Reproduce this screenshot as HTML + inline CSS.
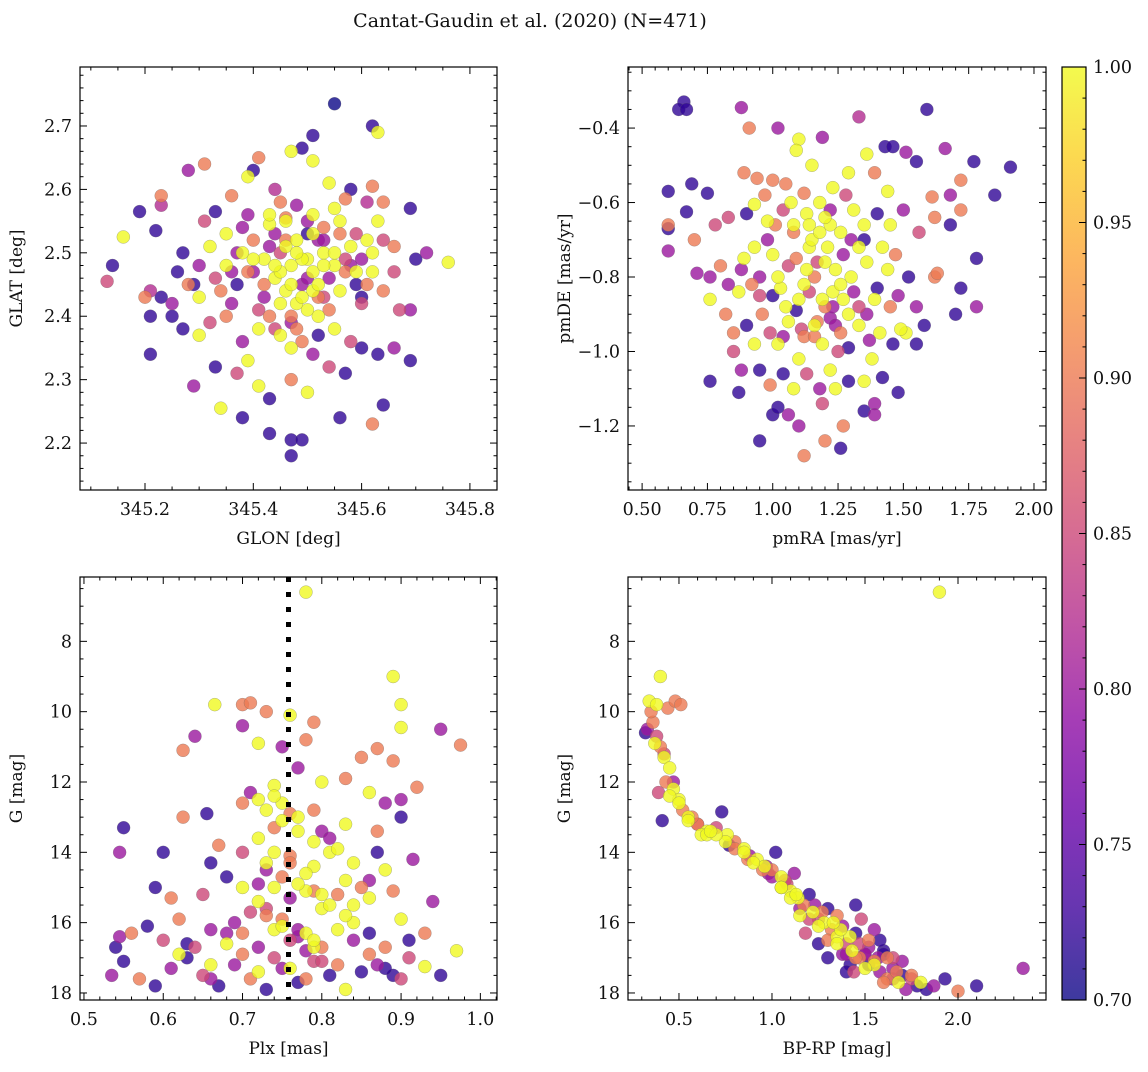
<!DOCTYPE html>
<html><head><meta charset="utf-8"><style>
html,body{margin:0;padding:0;background:#fff}
text{font-family:"DejaVu Serif","Liberation Serif",serif;fill:#111}
</style></head><body>
<svg id="fig" width="1148" height="1067" viewBox="0 0 1148 1067" xmlns="http://www.w3.org/2000/svg">
<defs><linearGradient id="cbg" x1="0" y1="1" x2="0" y2="0"></linearGradient></defs>
<text x="530" y="27" font-size="19" text-anchor="middle">Cantat-Gaudin et al. (2020) (N=471)</text>
</svg>
<script>
// Panel 1: GLON vs GLAT
const glonVals=[345.55,345.62,345.63,345.51,345.47,345.49,345.41,345.51,345.31,345.28,345.40,345.39,345.58,345.62,345.23,345.19,345.16,345.23,345.33,345.36,345.44,345.54,345.57,345.61,345.64,345.69,345.22,345.27,345.31,345.35,345.39,345.43,345.46,345.48,345.51,345.53,345.56,345.59,345.61,345.63,345.66,345.70,345.72,345.76,345.14,345.13,345.20,345.21,345.23,345.25,345.21,345.25,345.29,345.30,345.33,345.35,345.37,345.38,345.40,345.42,345.44,345.45,345.46,345.47,345.48,345.49,345.50,345.51,345.52,345.53,345.54,345.55,345.56,345.57,345.58,345.59,345.60,345.62,345.64,345.67,345.69,345.27,345.30,345.32,345.35,345.38,345.41,345.43,345.45,345.47,345.50,345.52,345.55,345.58,345.60,345.63,345.66,345.69,345.21,345.29,345.33,345.37,345.39,345.41,345.43,345.47,345.50,345.54,345.57,345.64,345.34,345.38,345.43,345.47,345.49,345.47,345.56,345.62,345.46,345.48,345.52,345.44,345.42,345.54,345.50,345.40,345.36,345.60,
345.45,345.47,345.49,345.51,345.53,345.46,345.48,345.50,345.52,345.44,345.42,345.40,345.43,345.55,345.57,345.49,345.47,345.51,345.53,345.45,345.41,345.39,345.37,345.59,345.61,345.46,345.50,345.48,345.52,345.44,345.36,345.34,345.32,345.56,345.58,345.62,345.64,345.30,345.28,345.26,345.47,345.49,345.51,345.53,345.43,345.45,345.55,345.38,345.60,345.66];
const glatVals=[2.735,2.70,2.69,2.685,2.66,2.665,2.65,2.645,2.64,2.63,2.63,2.62,2.60,2.605,2.59,2.565,2.525,2.575,2.565,2.59,2.60,2.61,2.585,2.58,2.58,2.57,2.535,2.50,2.55,2.53,2.56,2.545,2.555,2.575,2.56,2.54,2.55,2.53,2.52,2.55,2.51,2.49,2.50,2.485,2.48,2.455,2.43,2.44,2.43,2.42,2.40,2.40,2.45,2.43,2.46,2.48,2.45,2.50,2.47,2.49,2.46,2.50,2.44,2.48,2.52,2.45,2.49,2.47,2.43,2.50,2.46,2.48,2.44,2.47,2.51,2.45,2.42,2.47,2.44,2.41,2.41,2.38,2.37,2.39,2.40,2.36,2.38,2.40,2.37,2.39,2.41,2.37,2.38,2.36,2.35,2.34,2.35,2.33,2.34,2.29,2.32,2.31,2.33,2.29,2.27,2.30,2.28,2.32,2.31,2.26,2.255,2.24,2.215,2.205,2.205,2.18,2.24,2.23,2.51,2.42,2.52,2.53,2.43,2.41,2.53,2.52,2.42,2.49,
2.47,2.45,2.49,2.44,2.48,2.52,2.50,2.46,2.45,2.48,2.45,2.49,2.51,2.50,2.49,2.43,2.40,2.53,2.52,2.42,2.41,2.47,2.50,2.47,2.45,2.55,2.55,2.38,2.40,2.38,2.47,2.44,2.51,2.53,2.48,2.50,2.52,2.48,2.45,2.47,2.35,2.36,2.34,2.43,2.56,2.58,2.57,2.54,2.43,2.47];
const prob1=[.70,.72,1,.72,1,.72,.9,1,.9,.8,.72,1,.72,.9,.9,.72,1,.82,.72,.9,.82,1,.9,.82,.9,.72,.72,.72,.85,1,.8,1,.9,.8,1,.9,1,.85,1,1,.9,.72,.8,1,.72,.85,.9,.82,.72,.8,.72,.72,.72,1,.85,1,.72,1,.8,1,1,.85,1,1,1,.8,1,1,.9,1,.8,1,1,.9,1,.72,.85,1,.9,.85,.8,.72,1,.85,.9,.8,1,.9,1,.8,1,.72,1,.85,.72,.72,.8,.72,.72,.8,.72,.85,1,1,.72,.9,1,.85,.72,.72,1,.72,.72,.72,.72,.72,.72,.9,1,1,.8,.8,.8,.9,.72,.9,.8,.8,
1,1,1,1,1,.9,1,.8,1,1,.9,1,.8,1,.85,1,.9,1,.8,1,.85,.9,.8,1,.9,1,.8,.9,1,.85,.8,.9,1,.9,.8,1,.85,.8,.9,.72,1,.9,.8,.85,1,.9,1,.8,.72,.85];
// Panel 2: pmRA vs pmDE
const pmraVals=[0.66,0.64,0.67,0.88,1.59,1.33,0.91,1.02,1.10,1.19,1.43,1.51,1.46,1.55,1.66,1.77,1.91,1.36,1.15,1.09,1.29,1.39,1.00,0.94,0.89,0.69,0.60,0.75,1.05,1.23,1.12,1.44,1.61,1.72,1.85,1.68,0.60,0.67,0.60,0.70,0.60,0.78,0.83,0.90,0.93,0.98,1.04,1.08,1.13,1.18,1.22,1.26,1.31,1.35,1.40,1.45,1.50,1.56,1.62,1.68,1.72,1.62,1.63,1.78,1.72,1.70,1.78,0.71,0.76,0.80,0.76,0.82,0.87,0.89,0.93,0.95,1.00,1.03,1.06,1.10,1.14,1.16,1.20,1.23,1.27,1.30,1.33,1.36,1.40,1.44,1.48,1.52,1.55,1.58,0.90,0.96,0.99,1.02,1.06,1.09,1.12,1.16,1.19,1.22,1.26,1.29,1.33,1.37,1.41,1.46,1.51,1.55,1.49,0.76,0.85,0.88,0.87,0.95,0.99,1.04,1.08,1.13,1.18,1.22,1.24,1.29,1.35,1.42,1.48,1.39,1.00,1.02,0.95,1.06,1.10,1.12,1.19,1.20,1.26,1.27,1.35,1.39,
1.15,1.18,1.21,1.24,1.12,1.09,1.27,1.30,1.05,1.02,1.17,1.20,1.23,1.14,1.11,1.26,1.08,1.29,0.98,1.33,0.95,0.92,1.36,1.39,1.01,1.19,1.22,1.16,1.13,1.25,0.88,0.85,1.42,1.45,1.04,1.07,1.28,1.31,0.97,1.35,1.10,1.20,1.24,1.14,0.93,1.47,1.38,0.83,1.00,1.17];
const pmdeVals=[-0.33,-0.35,-0.35,-0.345,-0.35,-0.37,-0.40,-0.40,-0.43,-0.425,-0.45,-0.465,-0.45,-0.49,-0.455,-0.49,-0.505,-0.47,-0.50,-0.46,-0.52,-0.52,-0.54,-0.535,-0.52,-0.55,-0.57,-0.575,-0.55,-0.56,-0.575,-0.57,-0.585,-0.54,-0.58,-0.58,-0.66,-0.625,-0.67,-0.70,-0.73,-0.66,-0.64,-0.63,-0.605,-0.65,-0.62,-0.66,-0.63,-0.60,-0.66,-0.68,-0.62,-0.66,-0.63,-0.66,-0.62,-0.68,-0.64,-0.66,-0.62,-0.80,-0.79,-0.75,-0.83,-0.90,-0.88,-0.79,-0.80,-0.77,-0.86,-0.90,-0.84,-0.75,-0.72,-0.80,-0.74,-0.83,-0.77,-0.86,-0.72,-0.80,-0.76,-0.84,-0.74,-0.80,-0.88,-0.76,-0.83,-0.78,-0.85,-0.80,-0.88,-0.93,-0.93,-0.90,-0.95,-0.98,-0.92,-0.89,-0.96,-0.93,-0.98,-0.91,-0.95,-0.99,-0.93,-0.97,-0.95,-0.98,-0.95,-0.98,-0.94,-1.08,-1.00,-1.05,-1.11,-1.05,-1.09,-1.06,-1.10,-1.06,-1.10,-1.05,-1.10,-1.08,-1.08,-1.07,-1.11,-1.14,-1.17,-1.15,-1.24,-1.17,-1.20,-1.28,-1.14,-1.24,-1.26,-1.20,-1.16,-1.17,
-0.70,-0.68,-0.72,-0.78,-0.82,-0.75,-0.86,-0.70,-0.88,-0.80,-0.92,-0.64,-0.88,-0.66,-0.94,-0.82,-0.68,-0.90,-0.70,-0.72,-0.85,-0.82,-0.90,-0.86,-0.66,-0.86,-0.62,-0.96,-0.78,-1.00,-0.78,-0.95,-0.72,-0.88,-0.96,-0.60,-0.58,-0.84,-0.58,-0.70,-1.02,-0.88,-0.93,-0.84,-0.98,-0.74,-1.02,-0.82,-0.85,-0.76];
const prob2=[.72,.72,.72,.8,.72,.82,.9,.8,1,.8,.72,.8,.72,.72,.8,.72,.72,1,1,1,1,.9,.9,.9,.9,.72,.72,.72,.9,1,.9,1,.9,.9,.72,.8,.9,.72,.72,.9,.8,.85,.85,.72,1,1,.85,1,1,1,1,1,1,1,.72,1,.8,.85,.9,.72,.9,.9,.9,.72,.72,.72,.8,.8,.8,.9,1,.9,1,1,1,.8,1,1,.85,1,1,.9,1,1,.8,1,.85,1,.72,1,.8,.72,.8,.72,.72,.9,.85,1,1,.72,.9,1,1,.8,.9,.72,1,.8,1,.72,1,.72,1,.72,.85,.8,.72,.72,.9,.72,1,.85,.8,1,1,.72,1,.72,.72,.8,.72,.72,.72,.8,.8,.9,.85,.9,.72,.9,.72,.8,
1,1,1,1,1,.9,1,.8,1,1,.9,1,.8,1,.85,1,.9,1,.8,1,.85,.9,.8,1,.9,1,.8,.9,1,.85,.8,.9,1,.9,.8,1,.85,.8,.9,.72,1,.9,.8,.85,1,.9,1,.8,.72,.85];
// Panel 3: Plx vs G
const plxVals=[0.78,0.665,0.70,0.71,0.73,0.76,0.70,0.79,0.89,0.90,0.90,0.95,0.975,0.625,0.64,0.72,0.75,0.78,0.85,0.87,0.89,0.55,0.545,0.60,0.625,0.655,0.66,0.70,0.72,0.74,0.77,0.80,0.83,0.86,0.88,0.90,0.92,0.90,0.87,0.83,0.80,0.77,0.74,0.72,0.70,0.73,0.76,0.79,0.81,0.84,0.86,0.88,0.915,0.61,0.59,0.65,0.68,0.70,0.72,0.74,0.76,0.78,0.80,0.82,0.84,0.86,0.89,0.94,0.90,0.97,0.545,0.54,0.56,0.58,0.60,0.62,0.63,0.66,0.68,0.70,0.72,0.74,0.76,0.78,0.80,0.82,0.84,0.86,0.88,0.91,0.93,0.535,0.55,0.57,0.59,0.61,0.63,0.65,0.67,0.69,0.71,0.73,0.75,0.77,0.79,0.81,0.83,0.85,0.87,0.89,0.91,0.93,0.95,0.67,0.79,0.75,
0.73,0.75,0.77,0.79,0.74,0.76,0.78,0.72,0.80,0.81,0.73,0.75,0.77,0.79,0.74,0.76,0.78,0.82,0.71,0.83,0.73,0.75,0.77,0.79,0.70,0.84,0.68,0.86,0.66,0.64,0.73,0.75,0.77,0.79,0.81,0.83,0.71,0.69,0.85,0.87,0.74,0.76,0.78,0.80,0.72,0.82,0.62,0.66,0.88,0.90];
const gmag3=[6.6,9.8,9.8,9.75,10.0,10.1,10.4,10.3,9.0,9.8,10.45,10.5,10.95,11.1,10.7,10.9,11.0,10.8,11.3,11.05,11.4,13.3,14.0,14.0,13.0,12.9,14.3,12.6,12.5,12.1,11.6,12.0,11.9,12.3,12.6,12.5,12.15,13.0,13.4,13.2,13.4,13.0,13.3,13.6,14.0,14.3,14.1,14.4,14.0,14.3,14.8,14.5,14.2,15.3,15.0,15.2,14.7,15.0,15.4,15.0,15.3,15.1,15.6,15.2,15.5,15.3,15.1,15.4,15.9,16.8,16.4,16.7,16.3,16.1,16.5,15.9,16.6,16.2,16.6,16.3,16.7,16.2,16.5,16.3,16.7,16.2,16.5,16.3,16.7,16.5,16.3,17.5,17.1,17.6,17.8,17.3,17.0,17.5,17.8,17.2,17.6,17.9,17.3,17.7,17.1,17.5,17.9,17.4,17.2,17.5,17.0,17.25,17.5,13.8,12.8,12.6,
12.8,13.1,13.4,13.7,14.0,14.3,14.6,14.9,15.2,15.5,15.8,16.1,16.4,16.7,17.0,17.3,17.6,13.9,12.3,14.8,15.6,15.9,16.2,16.5,16.9,16.0,16.3,16.9,17.2,16.7,14.5,14.7,14.9,15.1,13.6,15.8,15.7,16.0,15.0,14.0,12.4,12.9,16.8,17.1,17.4,17.2,16.9,17.6,17.3,17.6];
const prob3=[1,1,.9,.9,.9,1,.8,.9,1,1,1,.8,.9,.9,.8,1,.8,.9,.9,.9,.9,.72,.8,.72,.9,.72,.72,.9,1,1,.8,1,.9,1,.8,.8,.9,.72,.9,1,.8,1,.9,1,.85,1,.9,1,1,1,.8,1,.8,.9,.72,.85,.72,1,1,1,.8,1,1,.9,1,1,.9,.8,1,1,.8,.72,.9,.72,.85,.9,.72,.8,1,.9,.8,1,.85,1,.9,1,.8,.72,.9,.72,.9,.8,.72,.9,.72,.8,.72,.85,.72,.8,.9,.72,.8,.72,.85,.72,1,.72,.8,.72,.85,1,.72,.9,.9,1,
1,1,1,1,1,.9,1,.8,1,1,.9,1,.8,1,.85,1,.9,1,.8,1,.85,.9,.8,1,.9,1,.8,.9,1,.85,.8,.9,1,.9,.8,1,.85,.8,.9,.72,1,.9,.8,.85,1,.9,1,.8,.72,.85];
// Panel 4: BP-RP vs G
const bprpVals=[1.9,0.40,0.34,0.38,0.44,0.48,0.51,0.33,0.36,0.38,0.40,0.42,0.45,0.43,0.39,0.47,0.50,0.52,0.41,0.55,0.60,0.65,0.70,0.73,0.76,0.80,0.85,0.88,0.92,0.96,1.00,1.02,1.05,1.08,1.10,1.12,1.14,1.17,1.20,1.22,1.25,1.28,1.30,1.32,1.35,1.38,1.40,1.43,1.45,1.47,1.50,1.52,1.55,1.58,1.60,1.62,1.65,1.68,1.70,1.72,1.75,1.78,1.83,1.87,1.93,2.10,2.00,2.35,1.48,1.55,1.35,1.58,1.42,1.30,1.38,1.25,1.65,1.70,1.52,1.45,1.15,1.05,0.98,0.62,0.35,0.32,1.18,1.40,
0.45,0.55,0.65,0.75,0.85,0.95,1.05,1.15,1.25,1.35,1.45,1.55,1.65,0.50,0.60,0.70,0.80,0.90,1.00,1.10,1.20,1.30,1.40,1.50,1.60,1.42,1.52,1.62,1.37,1.47,1.57,1.67,1.33,1.27,1.23,1.13,1.07,0.97,0.87,0.77,0.67,0.57,0.47,0.42,0.37,1.75,1.80,1.50,1.60,1.44];
const gmag4=[6.6,9.0,9.7,9.8,9.9,9.7,9.8,10.5,10.3,10.7,11.0,11.3,11.6,12.0,12.3,12.2,12.5,12.8,13.1,13.0,13.2,13.4,13.3,12.85,13.5,13.7,13.9,14.1,14.2,14.4,14.5,14.0,14.7,14.9,15.1,14.6,15.3,15.5,15.2,15.7,15.9,16.0,15.6,16.2,16.4,16.1,16.6,16.8,16.3,17.0,16.9,17.2,17.1,17.4,16.8,17.6,17.3,17.7,17.5,17.9,17.6,17.8,17.9,17.8,17.6,17.8,17.95,17.3,15.9,16.2,15.8,16.5,17.2,17.0,16.9,16.6,17.0,17.1,16.5,15.5,15.8,15.0,14.6,13.5,10.0,10.6,16.3,17.4,
12.4,13.1,13.5,13.7,14.0,14.5,15.0,15.6,16.1,16.6,17.0,17.2,17.6,12.6,13.2,13.5,13.9,14.3,14.7,15.3,15.9,16.5,16.9,17.3,17.7,16.4,16.7,17.0,16.2,16.6,17.0,17.4,16.0,15.7,15.5,15.2,14.8,14.4,14.2,13.8,13.4,13.0,12.0,11.2,10.9,17.5,17.7,16.9,16.9,17.4];
const prob4=[1,1,1,1,.9,.9,.9,.8,.9,.85,.9,1,1,.9,.85,1,1,.9,.72,1,.9,1,.85,.72,1,.9,1,.8,1,1,.9,.72,1,.85,1,.8,1,.9,.72,1,.85,1,.72,.9,1,.8,.85,1,.72,.9,.8,.72,.9,.8,.72,.9,.8,1,.72,.8,.85,.72,.72,.8,.72,.72,.9,.8,.85,.8,.9,.72,.72,.72,.8,.72,.85,.8,.9,.72,1,1,.8,1,.9,.72,.85,.72,
1,1,1,1,1,.9,1,.8,1,1,.9,1,.8,1,.85,1,.9,1,.8,1,.85,.9,.8,1,.9,1,.8,.9,1,.85,.8,.9,1,.9,.8,1,.85,.8,.9,.72,1,.9,.8,.85,1,.9,1,.8,.72,.85];
// Tick labels
const ticks1x=[345.2,345.4,345.6,345.8], ticks1y=[2.2,2.3,2.4,2.5,2.6,2.7];
const ticks2x=[0.5,0.75,1.0,1.25,1.5,1.75,2.0], ticks2y=[-1.2,-1.0,-0.8,-0.6,-0.4];
const ticks3x=[0.5,0.6,0.7,0.8,0.9,1.0], ticksG=[8,10,12,14,16,18];
const ticks4x=[0.5,1.0,1.5,2.0], ticksCb=[0.70,0.75,0.80,0.85,0.90,0.95,1.00];
const plxCut=0.758;

const NS='http://www.w3.org/2000/svg';
const svg=document.getElementById('fig');
function mk(tag,attrs,parent){const e=document.createElementNS(NS,tag);for(const k in attrs)e.setAttribute(k,attrs[k]);(parent||svg).appendChild(e);return e;}
const stops=['#0d0887','#41049d','#6a00a8','#8f0da4','#b12a90','#cc4778','#e16462','#f2844b','#fca636','#fcce25','#f0f921'];
function hx(c){return [1,3,5].map(i=>parseInt(c.substr(i,2),16));}
function plasma(t){t=Math.max(0,Math.min(1,t))*10;const i=Math.min(9,Math.floor(t)),f=t-i;const a=hx(stops[i]),b=hx(stops[i+1]);return 'rgb('+a.map((v,k)=>Math.round(v+(b[k]-v)*f)).join(',')+')';}
function cmap(p){return plasma((p-0.7)/0.3);}
function fmt(v,d){return v.toFixed(d).replace('-','\u2212');}

function panel(o){
  const g=mk('g',{});
  
  
  const X=v=>o.x0+(v-o.xmin)/(o.xmax-o.xmin)*(o.x1-o.x0);
  const Y=o.inv?v=>o.y0+(v-o.ymin)/(o.ymax-o.ymin)*(o.y1-o.y0):v=>o.y1-(v-o.ymin)/(o.ymax-o.ymin)*(o.y1-o.y0);
  const cp='cp'+o.name;
  const c=mk('clipPath',{id:cp},g);mk('rect',{x:o.x0,y:o.y0,width:o.x1-o.x0,height:o.y1-o.y0},c);
  const pts=mk('g',{'clip-path':'url(#'+cp+')'},g);
  const idx=o.xs.map((_,i)=>i).sort((a,b)=>o.ps[a]-o.ps[b]);
  idx.forEach(i=>{
    const e=mk('circle',{cx:X(o.xs[i]),cy:Y(o.ys[i]),r:6.5,fill:cmap(o.ps[i]),'fill-opacity':0.8,stroke:'#666','stroke-opacity':0.5,'stroke-width':0.5},pts);
    
    
  });
  if(o.vline!==undefined){
    const l=mk('line',{x1:X(o.vline),x2:X(o.vline),y1:o.y0,y2:o.y1,stroke:'#000','stroke-width':5,'stroke-dasharray':'5,10'},g);
    
    
  }
  mk('rect',{x:o.x0,y:o.y0,width:o.x1-o.x0,height:o.y1-o.y0,fill:'none',stroke:'#000','stroke-width':1.2},g);
  const xt=o.xt,yt=o.yt;
  const xstep=xt[1]-xt[0],ystep=yt[1]-yt[0];
  for(let v=xt[0]-xstep;v<=o.xmax+1e-9;v+=xstep/o.xm){if(v<o.xmin)continue;const px=X(v);const maj=Math.abs(((v-xt[0])/xstep)-Math.round((v-xt[0])/xstep))<1e-6;const L=maj?7:3.5;
    mk('line',{x1:px,x2:px,y1:o.y1,y2:o.y1-L,stroke:'#000','stroke-width':1},g);mk('line',{x1:px,x2:px,y1:o.y0,y2:o.y0+L,stroke:'#000','stroke-width':1},g);}
  for(let v=yt[0]-ystep;v<=o.ymax+1e-9;v+=ystep/o.ym){if(v<o.ymin)continue;const py=Y(v);const maj=Math.abs(((v-yt[0])/ystep)-Math.round((v-yt[0])/ystep))<1e-6;const L=maj?7:3.5;
    mk('line',{x1:o.x0,x2:o.x0+L,y1:py,y2:py,stroke:'#000','stroke-width':1},g);mk('line',{x1:o.x1,x2:o.x1-L,y1:py,y2:py,stroke:'#000','stroke-width':1},g);}
  xt.forEach(v=>{const t=mk('text',{x:X(v),y:o.y1+25,'font-size':17.5,'text-anchor':'middle'},g);t.textContent=fmt(v,o.xd);
    });
  yt.forEach(v=>{const t=mk('text',{x:o.x0-8,y:Y(v)+6,'font-size':17.5,'text-anchor':'end'},g);t.textContent=fmt(v,o.yd);
    });
  const xl=mk('text',{x:(o.x0+o.x1)/2,y:o.y1+54,'font-size':17,'text-anchor':'middle'},g);xl.textContent=o.xlab;
  
  const yx=o.x0-58,yy=(o.y0+o.y1)/2;
  const yl=mk('text',{x:yx,y:yy,'font-size':17,'text-anchor':'middle',transform:'rotate(-90 '+yx+' '+yy+')'},g);yl.textContent=o.ylab;
  
}
panel({name:'panel-sky-position',x0:80,x1:497,y0:67,y1:490,xmin:345.08,xmax:345.85,ymin:2.126,ymax:2.793,xs:glonVals,ys:glatVals,ps:prob1,xt:ticks1x,yt:ticks1y,xm:4,ym:5,xd:1,yd:1,xlab:'GLON [deg]',ylab:'GLAT [deg]'});
panel({name:'panel-proper-motion',x0:628,x1:1046,y0:67,y1:490,xmin:0.446,xmax:2.046,ymin:-1.372,ymax:-0.236,xs:pmraVals,ys:pmdeVals,ps:prob2,xt:ticks2x,yt:ticks2y,xm:5,ym:4,xd:2,yd:1,xlab:'pmRA [mas/yr]',ylab:'pmDE [mas/yr]'});
panel({name:'panel-parallax-mag',x0:80,x1:497,y0:577,y1:1000,xmin:0.495,xmax:1.021,ymin:6.17,ymax:18.2,inv:true,xs:plxVals,ys:gmag3,ps:prob3,xt:ticks3x,yt:ticksG,xm:5,ym:4,xd:1,yd:0,xlab:'Plx [mas]',ylab:'G [mag]',vline:plxCut});
panel({name:'panel-cmd',x0:628,x1:1046,y0:577,y1:1000,xmin:0.226,xmax:2.473,ymin:6.17,ymax:18.2,inv:true,xs:bprpVals,ys:gmag4,ps:prob4,xt:ticks4x,yt:ticksG,xm:5,ym:4,xd:1,yd:0,xlab:'BP-RP [mag]',ylab:'G [mag]'});

// colorbar
const grad=document.getElementById('cbg');
stops.forEach((s,i)=>mk('stop',{offset:(i*10)+'%','stop-color':s},grad));
const cb=mk('g',{});


const cx0=1062,cx1=1086,cy0=67,cy1=1000;
mk('rect',{x:cx0,y:cy0,width:cx1-cx0,height:cy1-cy0,fill:'url(#cbg)','fill-opacity':0.8},cb);
mk('rect',{x:cx0,y:cy0,width:cx1-cx0,height:cy1-cy0,fill:'none',stroke:'#000','stroke-width':1.2},cb);
const CY=v=>cy1-(v-0.7)/0.3*(cy1-cy0);
for(let k=0;k<=30;k++){const v=0.7+k*0.01;const maj=k%5===0;mk('line',{x1:cx1,x2:cx1-(maj?7:3.5),y1:CY(v),y2:CY(v),stroke:'#000','stroke-width':1},cb);}
ticksCb.forEach(v=>{const t=mk('text',{x:cx1+7,y:CY(v)+6,'font-size':17.5},cb);t.textContent=v.toFixed(2);
  });
</script>
</body></html>
